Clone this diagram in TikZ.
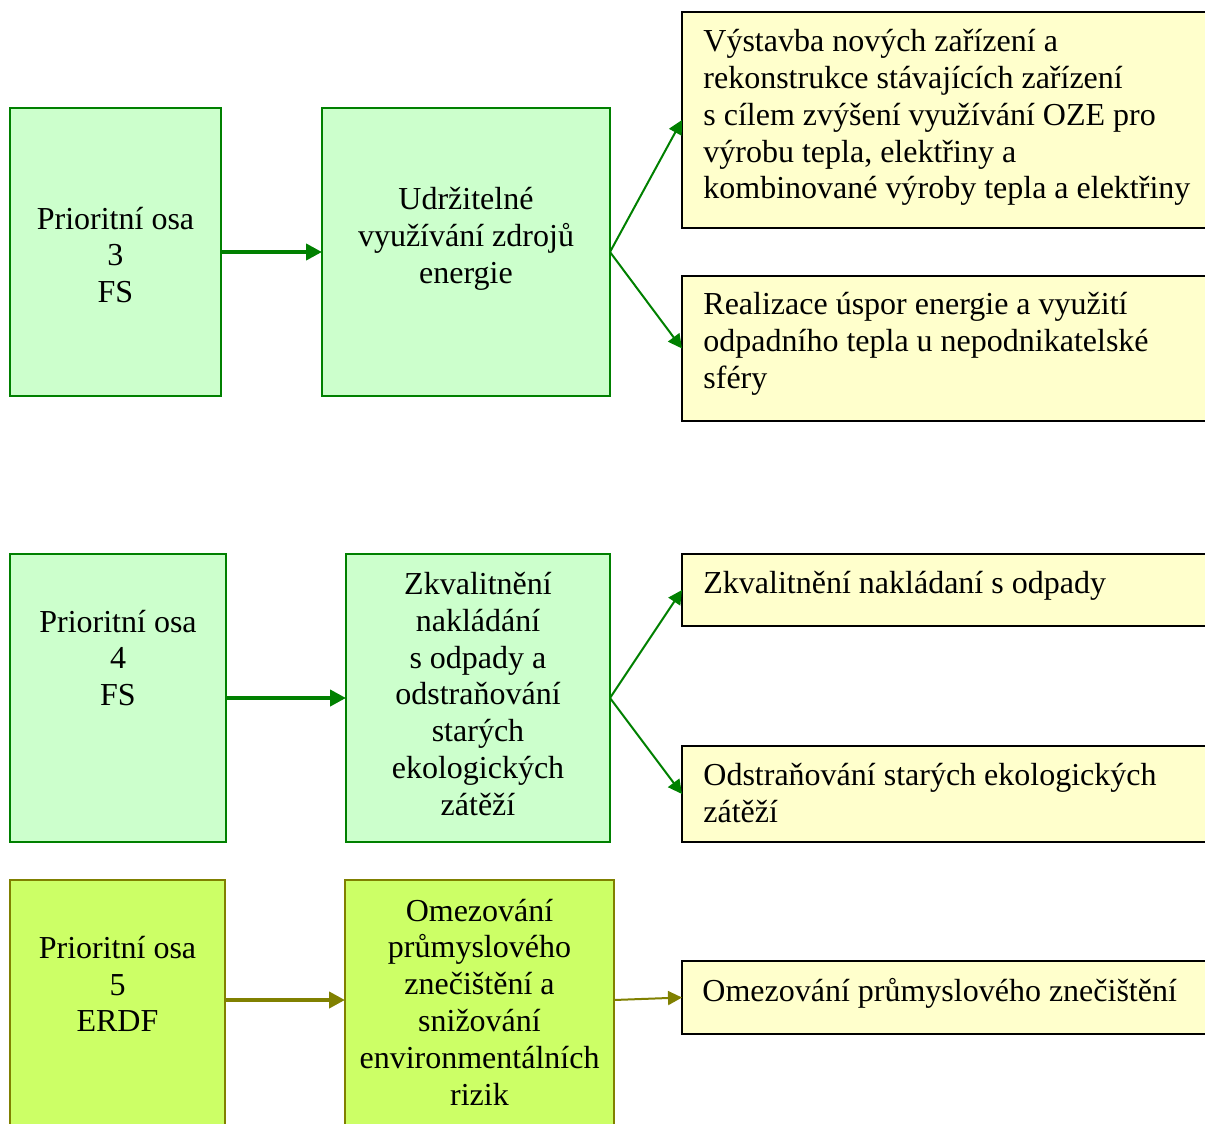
\documentclass[tikz,border=0pt]{standalone}
\usepackage{fontspec}
\setmainfont{Liberation Serif}
\usetikzlibrary{arrows.meta}
\definecolor{gfill}{HTML}{CCFFCC}
\definecolor{gline}{HTML}{008000}
\definecolor{yfill}{HTML}{FFFFCC}
\definecolor{lfill}{HTML}{CCFF66}
\definecolor{oline}{HTML}{808000}
\tikzset{
  box/.style={draw, line width=1pt, inner sep=0pt, outer sep=0pt},
  greenbox/.style={box, draw=gline, fill=gfill},
  yellowbox/.style={box, draw=black, fill=yfill, minimum width=266.5pt},
  limebox/.style={box, draw=oline, fill=lfill},
  txt/.style={font=\fontsize{16}{18.4}\selectfont, inner sep=0pt, align=center},
  ltxt/.style={font=\fontsize{16}{18.4}\selectfont, inner sep=0pt, align=left, anchor=north west},
  bigarrow/.style={line width=2pt, -{Triangle[length=8pt,width=8pt]}},
  smallarrow/.style={line width=1pt, -{Triangle[length=7pt,width=7pt]}},
}
\begin{document}
\begin{tikzpicture}[x=0.5pt,y=-0.5pt]
\useasboundingbox (0,0) rectangle (1205,1124);
\clip (0,0) rectangle (1205,1124);
% row 1
\node[greenbox, minimum width=105.5pt, minimum height=144pt] (A1) at (115.5,252) {};
\node[greenbox, minimum width=144pt, minimum height=144pt] (B1) at (466,252) {};
\node[yellowbox, minimum height=108pt] (C1) at (948.5,120) {};
\node[yellowbox, minimum height=72.5pt] (D1) at (948.5,348.5) {};
\node[txt] (tA1) at (115.5,255) {Prioritní osa\\3\\FS};
\node[txt] (tB1) at (466,239) {Udržitelné\\využívání zdrojů\\energie};
\node[ltxt] (tC1) at (703,29) {Výstavba nových zařízení a\\rekonstrukce stávajících zařízení\\s cílem zvýšení využívání OZE pro\\výrobu tepla, elektřiny a\\kombinované výroby tepla a elektřiny};
\node[ltxt] (tD1) at (703,292) {Realizace úspor energie a využití\\odpadního tepla u nepodnikatelské\\sféry};
\draw[bigarrow, gline] (A1) -- (B1);
\draw[smallarrow, gline] (B1.east) -- (C1.west);
\draw[smallarrow, gline] (B1.east) -- (D1.west);
% row 2
\node[greenbox, minimum width=108pt, minimum height=144pt] (A2) at (118,698) {};
\node[greenbox, minimum width=132pt, minimum height=144pt] (B2) at (478,698) {};
\node[yellowbox, minimum height=36pt] (C2) at (948.5,590) {};
\node[yellowbox, minimum height=48pt] (D2) at (948.5,794) {};
\node[txt] (tA2) at (118,658) {Prioritní osa\\4\\FS};
\node[txt] (tB2) at (478,694) {Zkvalitnění\\nakládání\\s odpady a\\odstraňování\\starých\\ekologických\\zátěží};
\node[ltxt] (tC2) at (703,571) {Zkvalitnění nakládaní s odpady};
\node[ltxt] (tD2) at (703,763) {Odstraňování starých ekologických\\zátěží};
\draw[bigarrow, gline] (A2) -- (B2);
\draw[smallarrow, gline] (B2.east) -- (C2.west);
\draw[smallarrow, gline] (B2.east) -- (D2.west);
% row 3
\coordinate (r3) at (0,1000);
\node[limebox, minimum width=107.5pt, minimum height=130pt] (A3) at (117.5,1010) {};
\node[limebox, minimum width=134.5pt, minimum height=130pt] (B3) at (479.5,1010) {};
\node[yellowbox, minimum height=36.5pt] (C3) at (948.5,997.5) {};
\node[txt] (tA3) at (117.5,984) {Prioritní osa\\5\\ERDF};
\node[txt] (tB3) at (479.5,1002) {Omezování\\průmyslového\\znečištění a\\snižování\\environmentálních\\rizik};
\node[ltxt] (tC3) at (702,978) {Omezování průmyslového znečištění};
\draw[bigarrow, oline] (A3.east |- r3) -- (B3.west |- r3);
\draw[smallarrow, oline] (B3.east |- r3) -- (C3.west);
\end{tikzpicture}
\end{document}
